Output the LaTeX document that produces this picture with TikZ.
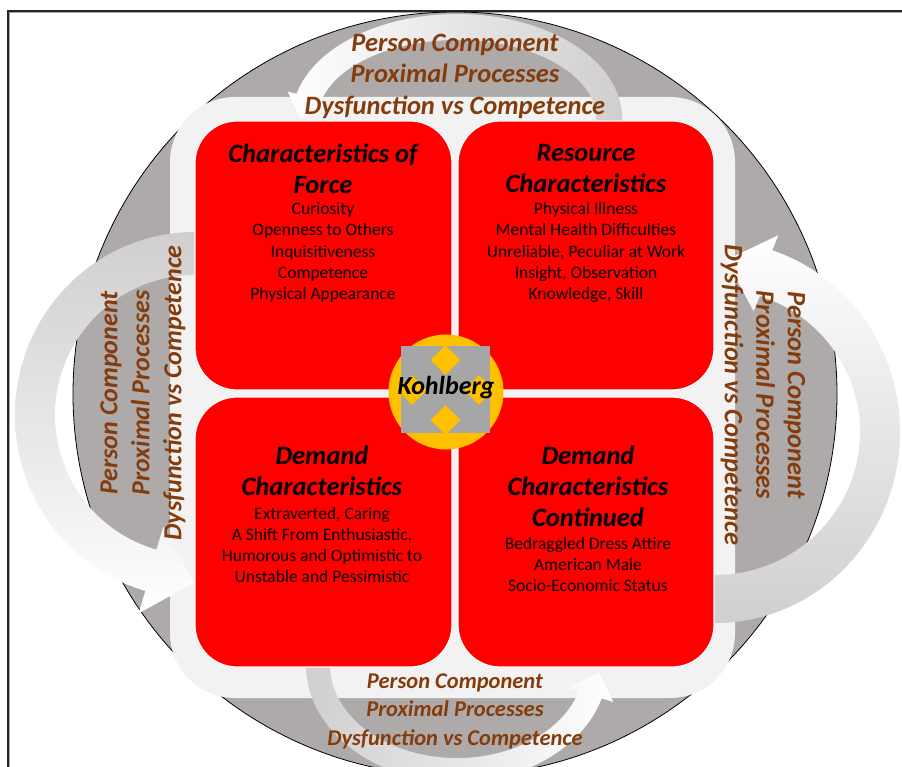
\documentclass[tikz,border=0pt]{standalone}
\usepackage{fontspec}
\setmainfont{Carlito}
\usetikzlibrary{shapes.geometric}
\definecolor{circgray}{HTML}{AEAAAA}
\definecolor{arrgray}{HTML}{D0CECE}
\definecolor{lightbg}{HTML}{F2F2F2}
\definecolor{brownt}{HTML}{843C0C}
\definecolor{goldc}{HTML}{FFC000}
\definecolor{sqgray}{HTML}{A6A6A6}
\begin{document}
\begin{tikzpicture}[x=1pt,y=1pt,
  redbox/.style={fill=red, draw=white, line width=1.2pt, rounded corners=42pt, inner sep=0pt},
  headtxt/.style={font=\fontsize{26.5}{31}\selectfont\bfseries\itshape, align=center, text=black, inner sep=0pt},
  bodytxt/.style={font=\fontsize{17.5}{21.2}\selectfont, align=center, text=black, inner sep=0pt},
  outtxt/.style={font=\fontsize{26.5}{31.5}\selectfont\bfseries\itshape, align=center, text=brownt, inner sep=0pt},
  outtxtside/.style={font=\fontsize{26}{32}\selectfont\bfseries\itshape, align=center, text=brownt, inner sep=0pt},
  outtxtbot/.style={font=\fontsize{22.5}{28.5}\selectfont\bfseries\itshape, align=center, text=brownt, inner sep=0pt},
  gem/.style={diamond, fill=goldc, minimum size=30pt, inner sep=0pt},
  arrowband/.style={draw=none}
]
\useasboundingbox (0,0) rectangle (902,-767);
\clip (0,0) rectangle (902,-767);

% frame
\draw[line width=1pt, black!35] (9.5,-767) -- (9.5,-12.5) -- (902,-12.5);
\draw[line width=1.3pt, black!85] (8,-767) -- (8,-11) -- (902,-11);

% big gray circle
\node[circle, fill=circgray, draw=black, line width=0.8pt, minimum size=764pt, inner sep=0pt] (ring) at (455,-394) {};

% light background
\node[fill=lightbg, rounded corners=65pt, minimum width=565pt, minimum height=601pt, inner sep=0pt] (bg) at (452.5,-397.5) {};

% top arrow
\shade[arrowband, left color=white, right color=arrgray] (622,-121) -- (622,-118)
  arc[start angle=0, end angle=166.5, x radius=165pt, y radius=104pt]
  -- (287.8,-91.7) -- (300.3,-119.1) -- (330.6,-101.9) -- (321.8,-99.8)
  arc[start angle=166.5, end angle=0, x radius=139pt, y radius=78pt]
  -- (596,-121) -- cycle;

% left arrow
\shade[arrowband, top color=arrgray, bottom color=white] (198,-232) -- (195,-232)
  arc[start angle=90, end angle=254, x radius=180pt, y radius=183pt]
  -- (138.5,-613.4) -- (194,-582.8) -- (163.3,-527) -- (156.4,-549.6)
  arc[start angle=254, end angle=90, x radius=140pt, y radius=140pt]
  -- (198,-275) -- cycle;

% right arrow
\shade[arrowband, top color=white, bottom color=arrgray] (712,-623) -- (715,-623)
  arc[start angle=-90, end angle=72, x radius=185pt, y radius=191pt]
  -- (778.4,-235.2) -- (726.1,-260.1) -- (753.6,-311.2) -- (759.8,-296)
  arc[start angle=72, end angle=-90, x radius=145pt, y radius=143pt]
  -- (712,-575) -- cycle;

% bottom arrow
\shade[arrowband, left color=arrgray, right color=white] (306,-662) -- (306,-665)
  arc[start angle=180, end angle=343.4, x radius=151pt, y radius=117pt]
  -- (613.2,-701.9) -- (599,-672.7) -- (567.2,-688.1) -- (578.7,-691.6)
  arc[start angle=343.4, end angle=180, x radius=127pt, y radius=93pt]
  -- (330,-662) -- cycle;

% red boxes
\node[redbox, minimum width=257pt, minimum height=269pt] (tl) at (323.5,-255.5) {};
\node[redbox, minimum width=256pt, minimum height=269pt] (tr) at (586,-255.5) {};
\node[redbox, minimum width=257pt, minimum height=270pt] (bl) at (323.5,-532) {};
\node[redbox, minimum width=256pt, minimum height=270pt] (br) at (586,-532) {};

% hub
\node[circle, fill=goldc, minimum size=115pt, inner sep=0pt] (hub) at (446,-392) {};
\node[fill=sqgray, minimum width=89pt, minimum height=87pt, inner sep=0pt] (sq) at (445.5,-389.5) {};
\node[gem] (gt) at (445.5,-360) {};
\node[gem] (gb) at (445.5,-420) {};
\node[gem] (gl) at (412,-390) {};
\node[gem] (gr) at (479,-390) {};
\node[font=\fontsize{26}{30}\selectfont\bfseries\itshape, text=black, inner sep=0pt] (kohl) at (446,-388) {Kohlberg};

% box texts
\node[headtxt] (tlh) at (323,-168.5) {Characteristics of\\Force};
\node[bodytxt] (tlb) at (323,-252.5) {Curiosity\\Openness to Others\\Inquisitiveness\\Competence\\Physical Appearance};
\node[headtxt] (trh) at (586,-168.5) {Resource\\Characteristics};
\node[bodytxt] (trb) at (586,-252.5) {Physical Illness\\Mental Health Difficulties\\Unreliable, Peculiar at Work\\Insight, Observation\\Knowledge, Skill};
\node[headtxt] (blh) at (322,-471) {Demand\\Characteristics};
\node[bodytxt] (blb) at (322,-545) {Extraverted, Caring\\A Shift From Enthusiastic,\\Humorous and Optimistic to\\Unstable and Pessimistic};
\node[headtxt] (brh) at (588,-486.5) {Demand\\Characteristics\\Continued};
\node[bodytxt] (brb) at (588,-564.5) {Bedraggled Dress Attire\\American Male\\Socio-Economic Status};

% outer texts
\node[outtxt] (ttop) at (455,-76) {Person Component\\Proximal Processes\\Dysfunction vs Competence};
\node[outtxtside, rotate=90] (tleft) at (143,-393) {Person Component\\Proximal Processes\\Dysfunction vs Competence};
\node[outtxt, rotate=-90] (tright) at (763,-395) {Person Component\\Proximal Processes\\Dysfunction vs Competence};
\node[outtxtbot] (tbot) at (455,-711) {Person Component\\Proximal Processes\\Dysfunction vs Competence};
\end{tikzpicture}
\end{document}
